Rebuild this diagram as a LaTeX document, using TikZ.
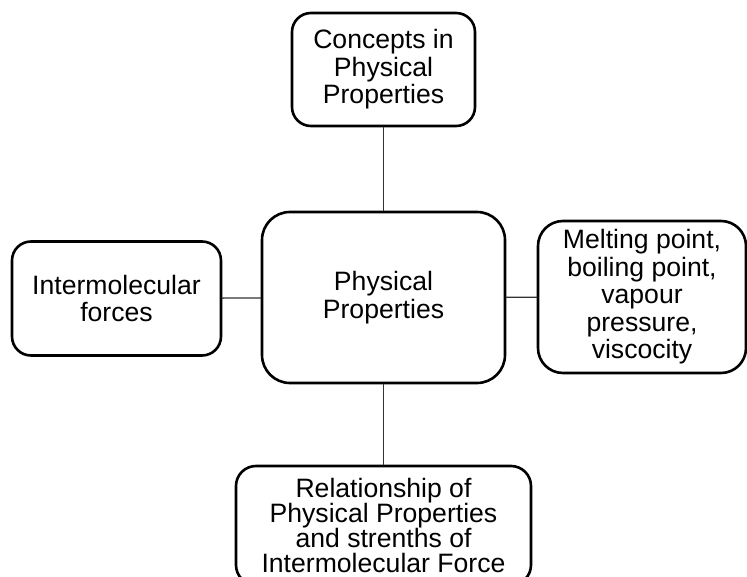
\documentclass[tikz,border=0pt]{standalone}
\usepackage{fontspec}
\setmainfont{Liberation Sans}
\begin{document}
\begin{tikzpicture}[x=1pt, y=-1pt, line join=round, line cap=round,
  font=\fontsize{26.6}{27.5}\selectfont,
  box/.style={draw, line width=2.6pt, align=center, inner sep=0pt, rectangle},
  link/.style={draw=black!80, line width=1.3pt}]
\useasboundingbox (0,0) rectangle (747,577);
\path
(383.5,69.5) coordinate (T)
(383.5,297.5) coordinate (M)
(116.5,298.5) coordinate (L)
(642,297) coordinate (R)
(383.5,525.5) coordinate (B)
;
\node[box, rounded corners=19pt, minimum width=183pt, minimum height=113pt] (concepts) at (T)
  {Concepts in\\Physical\\Properties};
\node[box, rounded corners=28pt, minimum width=243pt, minimum height=171pt] (phys) at (M)
  {Physical\\Properties};
\node[box, rounded corners=19pt, minimum width=209pt, minimum height=114pt] (forces) at (L)
  {Intermolecular\\forces};
\node[box, rounded corners=25pt, minimum width=208pt, minimum height=152pt] (points) at (R)
  {Melting point,\\boiling point,\\vapour\\pressure,\\viscocity};
\node[box, rounded corners=20pt, minimum width=295pt, minimum height=119pt,
  font=\fontsize{26.6}{25}\selectfont] (relation) at (B)
  {Relationship of\\Physical Properties\\and strenths of\\Intermolecular Force};
\draw[link] (concepts) -- (phys);
\draw[link] (phys) -- (relation);
\draw[link] (forces) -- (phys);
\draw[link] (phys) -- (points);
\end{tikzpicture}
\end{document}
